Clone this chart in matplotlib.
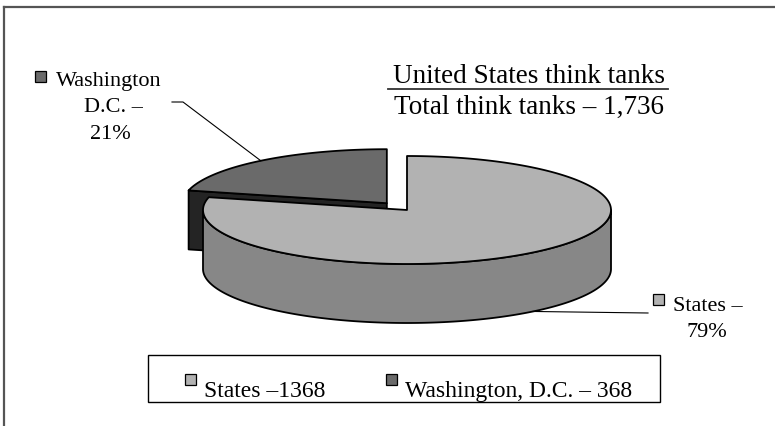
import numpy as np
import matplotlib.pyplot as plt
from matplotlib.patches import Polygon, Rectangle

# data
categories = ['States', 'Washington, D.C.']
counts = [1368, 368]
legend_labels = ['States –1368', 'Washington, D.C. – 368']
title_top = 'United States think tanks'
title_bottom = 'Total think tanks – 1,736'

top_colors = ['#b2b2b2', '#6a6a6a']
side_colors = ['#878787', '#242424']

plt.rcParams['font.family'] = ['Liberation Serif', 'DejaVu Serif']

total = sum(counts)
fracs = [c / total for c in counts]
pcts = [round(100 * f) for f in fracs]

# pie geometry in pixel space
cx, cy = 407, 211
rx, ry = 204, 54
depth = 59
explode = 0.16


def arc(t0, t1, ox, oy, z=0, n=200):
    t = np.radians(np.linspace(t0, t1, n))
    return np.column_stack([ox + rx * np.cos(t), oy - ry * np.sin(t) + z])


def pt(t, ox, oy, z=0):
    t = np.radians(t)
    return np.array([ox + rx * np.cos(t), oy - ry * np.sin(t) + z])


fig = plt.figure(figsize=(7.75, 4.27), dpi=100)
ax = fig.add_axes([0, 0, 1, 1])
ax.set_xlim(0, 775)
ax.set_ylim(427, 0)
ax.axis('off')

# outer frame (only top and left visible in the crop)
ax.plot([4, 775], [8, 8], color='#555555', lw=1.6)
ax.plot([4, 4], [8, 427], color='#555555', lw=1.6)

# angles: Washington goes counter-clockwise from 12 o'clock, States takes the rest
w_start = 90
w_end = 90 + 360 * fracs[1]
s_start = w_end
s_end = 450

edge = dict(edgecolor='black', lw=1.3, joinstyle='round')

# Washington slice, exploded outward along its mid angle
w_mid = np.radians((w_start + w_end) / 2)
wcx = cx + explode * rx * np.cos(w_mid)
wcy = cy - explode * ry * np.sin(w_mid)

face = np.array([[wcx, wcy], pt(w_end, wcx, wcy), pt(w_end, wcx, wcy, depth),
                 [wcx, wcy + depth]])
ax.add_patch(Polygon(face, closed=True, facecolor=side_colors[1], **edge))
wtop = np.vstack([[wcx, wcy], arc(w_start, w_end, wcx, wcy)])
ax.add_patch(Polygon(wtop, closed=True, facecolor=top_colors[1], **edge))

# States slice
side = np.vstack([arc(180, 360, cx, cy), arc(360, 180, cx, cy, depth)])
ax.add_patch(Polygon(side, closed=True, facecolor=side_colors[0], **edge))
stop = np.vstack([[cx, cy], arc(s_start, s_end, cx, cy)])
ax.add_patch(Polygon(stop, closed=True, facecolor=top_colors[0], **edge))

# leader lines
w_anchor = pt(np.degrees(w_mid), wcx, wcy)
ax.plot([172, 183, w_anchor[0]], [103, 103, w_anchor[1]], color='black', lw=0.8)
s_anchor = pt((s_start + s_end) / 2, cx, cy, depth)
ax.plot([s_anchor[0], 648], [s_anchor[1], 314], color='black', lw=0.8)

# slice labels
lab_fs = 16
ax.add_patch(Rectangle((35, 72), 11, 11, facecolor=top_colors[1], edgecolor='black', lw=0.9))
ax.text(56, 86, 'Washington', fontsize=lab_fs, ha='left', va='baseline')
ax.text(113, 112, 'D.C. –', fontsize=lab_fs, ha='center', va='baseline')
ax.text(110, 139, f'{pcts[1]}%', fontsize=lab_fs, ha='center', va='baseline')

ax.add_patch(Rectangle((653, 295), 11, 11, facecolor=top_colors[0], edgecolor='black', lw=0.9))
ax.text(673, 311, 'States –', fontsize=lab_fs, ha='left', va='baseline')
ax.text(707, 337, f'{pcts[0]}%', fontsize=lab_fs, ha='center', va='baseline')

# title with rule
ax.text(529, 83, title_top, fontsize=19.5, ha='center', va='baseline')
ax.plot([388, 668], [90, 90], color='#333333', lw=1.3)
ax.text(529, 114, title_bottom, fontsize=19.5, ha='center', va='baseline')

# legend box
ax.add_patch(Rectangle((148, 356), 512, 47, facecolor='white', edgecolor='black', lw=1.0))
leg_x = [185, 386]
for x, lab, col in zip(leg_x, legend_labels, top_colors):
    ax.add_patch(Rectangle((x, 375), 11, 11, facecolor=col, edgecolor='black', lw=0.9))
    ax.text(x + 19, 397, lab, fontsize=17, ha='left', va='baseline')

fig.savefig('out.png', dpi=100)
